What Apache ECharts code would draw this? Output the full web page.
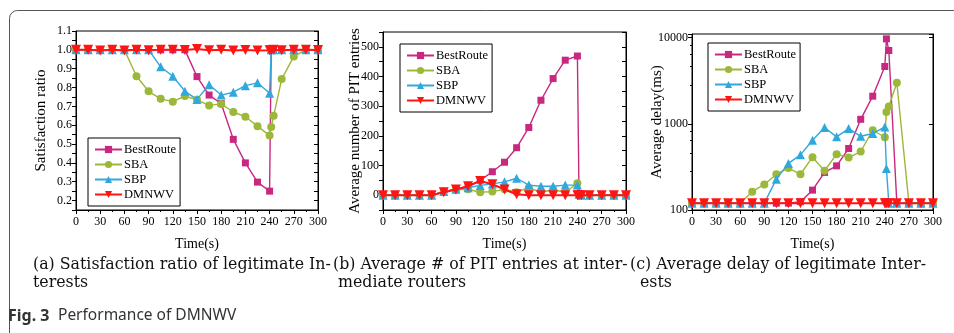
<!DOCTYPE html>
<html>
<head>
<meta charset="utf-8">
<script src="https://cdn.jsdelivr.net/npm/echarts@6/dist/echarts.min.js"></script>
<style>
html,body{margin:0;padding:0;background:#fff;}
#c{width:954px;height:333px;}
</style>
</head>
<body>
<div id="c"></div>
<script>
// ---- data ----
const times = [0,15,30,45,60,75,90,105,120,135,150,165,180,195,210,225,240,242,245,255,270,285,300];
const seriesNames = ['BestRoute','SBA','SBP','DMNWV'];
const xTicks = [0,30,60,90,120,150,180,210,240,270,300];

// (a) satisfaction ratio
const bestRouteA = [1,1,1,1,1,1,1,1,1,1,0.858,0.76,0.715,0.525,0.40,0.298,0.25,1,1,1,1,1,1];
const sbaA       = [1,1,1,1,1,0.86,0.78,0.74,0.725,0.755,0.735,0.705,0.713,0.67,0.645,0.595,0.545,0.59,0.65,0.845,0.965,1,1];
const sbpA       = [1,1,1,1,1,1,1,0.91,0.86,0.78,0.737,0.815,0.76,0.775,0.81,0.825,0.77,1,1,1,1,1,1];
const dmnwvA     = [1,1,0.997,1,0.997,1,0.998,1,1,0.999,1.004,0.998,1.001,0.997,0.999,0.996,0.998,0.999,1,0.998,1,1,0.999];
const yTicksA = [0.2,0.3,0.4,0.5,0.6,0.7,0.8,0.9,1.0,1.1];
const yMinorA = [0.15,0.2,0.25,0.3,0.35,0.4,0.45,0.5,0.55,0.6,0.65,0.7,0.75,0.8,0.85,0.9,0.95,1.0,1.05,1.1];

// (b) PIT entries
const bestRouteB = [0,0,0,0,0,12,20,30,50,79,111,160,228,320,393,455,469,3,0,0,0,0,0];
const sbaB       = [0,0,0,0,0,12,18,20,10,12,20,10,25,9,19,9,40,3,0,0,0,0,0];
const sbpB       = [0,0,0,0,0,12,20,25,33,38,45,57,34,30,30,34,34,3,0,0,0,0,0];
const dmnwvB     = [0,0,0,0,0,10,19,30,48,37,19,3,0,0,0,0,0,0,0,0,0,0,0];
const yTicksB = [0,100,200,300,400,500];

// (c) delay (ms)
const bestRouteC = [120,120,120,120,120,120,120,120,120,125,170,273,325,517,1127,2090,4620,9660,7080,120,120,120,120];
const sbaC       = [120,120,120,120,120,163,198,260,306,260,410,285,444,406,477,841,698,1370,1590,2990,120,120,120];
const sbpC       = [120,120,120,120,120,120,120,228,347,436,645,904,705,880,716,771,918,303,120,120,120,120,120];
const dmnwvC     = [120,120,120,120,120,120,120,120,120,120,120,120,120,120,120,120,120,120,120,120,120,120,120];
const yTicksC = [100,1000,10000];

const yNames = ['Satisfaction ratio','Average number of PIT entries','Average delay(ms)'];
const xName = 'Time(s)';
const captions = [
  ['(a) Satisfaction ratio of legitimate In-','terests'],
  ['(b) Average # of PIT entries at inter-','mediate routers'],
  ['(c) Average delay of legitimate Inter-','ests']
];
const figLabel = 'Fig. 3';
const figTitle = 'Performance of DMNWV';

// ---- styles ----
const SERIF = '"Liberation Serif", "Times New Roman", serif';
const CAPFONT = '"DejaVu Serif", serif';
const STY = {
  BestRoute:{color:'#c8287f', symbol:'rect', size:7, rot:0, lw:1.4},
  SBA:{color:'#9cb83a', symbol:'circle', size:8, rot:0, lw:1.4},
  SBP:{color:'#30a8dc', symbol:'triangle', size:9, rot:0, lw:1.4},
  DMNWV:{color:'#ff1414', symbol:'triangle', size:10, rot:180, lw:2}
};
const panelData = [
  [bestRouteA,sbaA,sbpA,dmnwvA],
  [bestRouteB,sbaB,sbpB,dmnwvB],
  [bestRouteC,sbaC,sbpC,dmnwvC]
];
const grids = [
  {left:76, width:242, top:31, height:179},
  {left:383, width:243, top:32, height:178},
  {left:692, width:241, top:34, height:176}
];
const legendPos = [
  {left:88, top:138},
  {left:400, top:44},
  {left:708, top:43}
];
const nameGaps = [27, 20, 27];

function isOn(v, list){ return list.some(t => Math.abs(t - v) < 1e-6 * Math.max(1, Math.abs(t))); }

const xAxes = [], yAxes = [], series = [], legends = [];
grids.forEach((g, p) => {
  xAxes.push({
    gridIndex:p, type:'value', min:0, max:300, interval:30,
    position:'bottom',
    axisLine:{show:true, onZero:false, lineStyle:{color:'#000', width:1}},
    splitLine:{show:false},
    axisTick:{show:true, inside:false, length:4, lineStyle:{color:'#000'}},
    minorTick:{show:true, splitNumber:2, length:2, lineStyle:{color:'#000'}},
    axisLabel:{color:'#000', fontFamily:SERIF, fontSize:12, margin:6, showMaxLabel:true, showMinLabel:true,
      formatter:v => isOn(v, xTicks) ? String(Math.round(v)) : ''},
    name:xName, nameLocation:'middle', nameGap:27,
    nameTextStyle:{color:'#000', fontFamily:SERIF, fontSize:14}
  });

  let yb;
  if (p === 0) {
    yb = {type:'value', min:0.15, max:1.1,
      lblFmt: v => Number(v).toFixed(1)};
  } else if (p === 1) {
    yb = {type:'value', min:-50, max:550, interval:50,
      lblFmt: v => isOn(v, yTicksB) ? String(Math.round(v)) : ''};
  } else {
    yb = {type:'log', logBase:10, min:100, max:11000,
      lblFmt: v => isOn(v, yTicksC) ? String(Math.round(v)) : ''};
  }
  const ybase = {
    gridIndex:p, type:yb.type, min:yb.min, max:yb.max,
    axisLine:{show:true, onZero:false, lineStyle:{color:'#000', width:1}},
    splitLine:{show:false}
  };
  if (yb.interval) ybase.interval = yb.interval;
  if (yb.type === 'log') ybase.logBase = 10;
  const minor = yb.type === 'log' ? {show:true, splitNumber:5, length:2, lineStyle:{color:'#000'}} : {show:false};
  const yLabel = {color:'#000', fontFamily:SERIF, fontSize:12, margin:4, formatter:yb.lblFmt,
      showMaxLabel:true, showMinLabel:true, hideOverlap:false};
  const yTick = {show:true, inside:false, length:4, lineStyle:{color:'#000'}};
  const yTickR = {show:true, inside:true, length:4, lineStyle:{color:'#000'}};
  if (p === 0) {
    yLabel.customValues = yTicksA;
    yTick.customValues = yMinorA;
    yTickR.customValues = yMinorA;
  }
  yAxes.push(Object.assign({}, ybase, {
    position:'left',
    axisTick:yTick,
    minorTick:minor,
    axisLabel:yLabel,
    name:yNames[p], nameLocation:'middle', nameGap:nameGaps[p], nameMoveOverlap:false,
    nameTextStyle:{color:'#000', fontFamily:SERIF, fontSize:15}
  }));
  yAxes.push(Object.assign({}, ybase, {
    position:'right',
    axisTick:yTickR,
    axisLabel:{show:false}
  }));

  seriesNames.forEach((nm, k) => {
    const s = STY[nm];
    series.push({
      name:nm, type:'line', xAxisIndex:p, yAxisIndex:p*2,
      data: times.map((t, i) => [t, panelData[p][k][i]]),
      symbol:s.symbol, symbolSize:s.size, symbolRotate:s.rot,
      showAllSymbol:true,
      lineStyle:{color:s.color, width:s.lw},
      itemStyle:{color:s.color},
      z: 2 + k,
      animation:false
    });
  });

  legends.push({
    orient:'vertical', left:legendPos[p].left, top:legendPos[p].top,
    data:seriesNames,
    backgroundColor:'#fff', borderColor:'#000', borderWidth:1, borderRadius:0,
    padding:[5,4,5,6], itemGap:2, itemWidth:27, itemHeight:9,
    textStyle:{color:'#000', fontFamily:SERIF, fontSize:12.5, padding:[0,0,0,-3]},
    selectedMode:false
  });
});

const graphic = [
  {type:'rect', shape:{x:9.5, y:10.5, width:1000, height:400, r:8},
   style:{fill:'none', stroke:'#555', lineWidth:1}, z:-1, silent:true}
];
const capX = [[33,33],[333,338],[630,640]];
captions.forEach((lines, p) => {
  lines.forEach((ln, j) => {
    graphic.push({type:'text', x:capX[p][j], y: j === 0 ? 265 : 283,
      style:{text:ln, font:'15.8px ' + CAPFONT, fill:'#111', verticalAlign:'middle'}});
  });
});
graphic.push({type:'text', x:8, y:316,
  style:{text:figLabel, font:'bold 16px "Noto Sans", sans-serif', fill:'#333', verticalAlign:'middle'}});
graphic.push({type:'text', x:58, y:316,
  style:{text:figTitle, font:'15.5px "Noto Sans", sans-serif', fill:'#333', verticalAlign:'middle'}});

const chart = echarts.init(document.getElementById('c'), null, {renderer:'canvas'});
chart.setOption({
  animation:false,
  backgroundColor:'#fff',
  grid:grids.map(g => Object.assign({containLabel:false, show:true, borderColor:'#000', borderWidth:1, backgroundColor:'transparent'}, g)),
  xAxis:xAxes, yAxis:yAxes, series:series, legend:legends, graphic:graphic
});
</script>
</body>
</html>
